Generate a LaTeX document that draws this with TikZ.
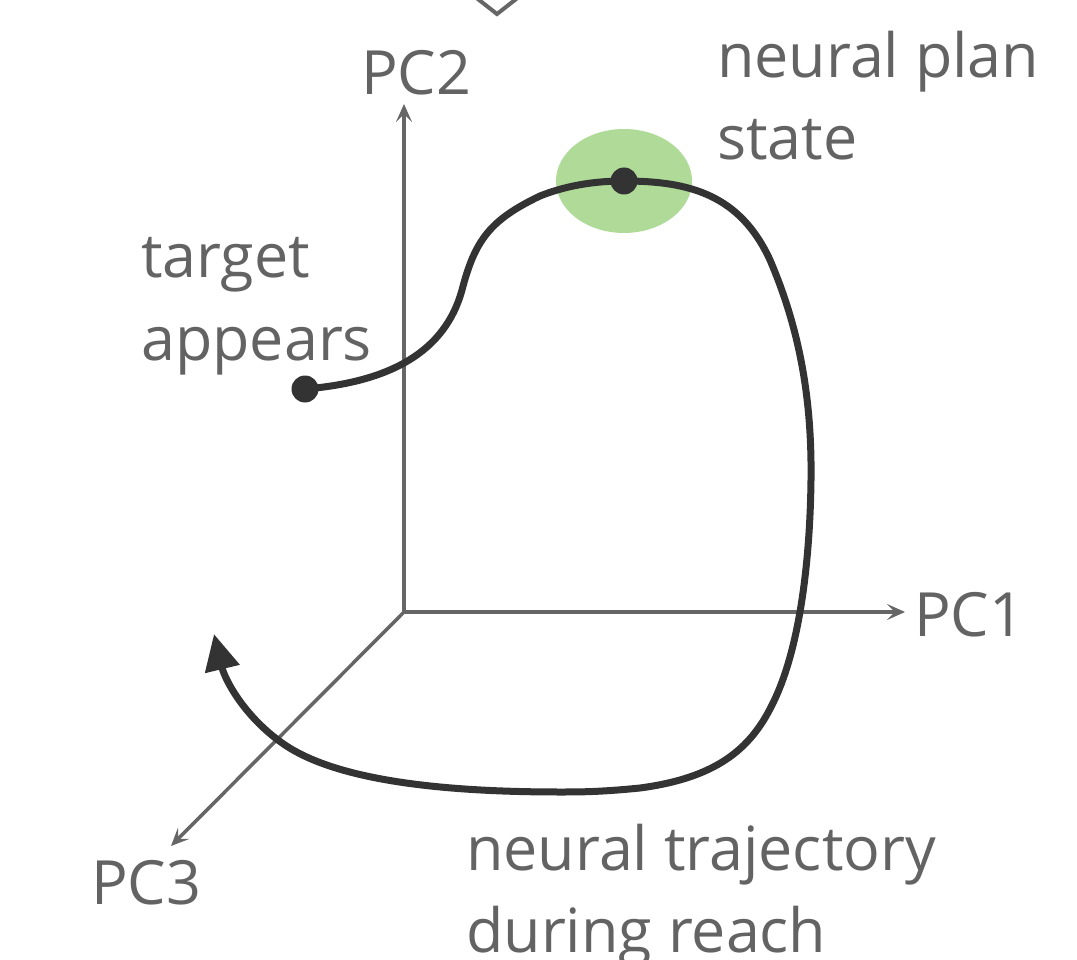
\documentclass[tikz,border=0pt]{standalone}
\usepackage{fontspec}
\setmainfont{Open Sans}
\usetikzlibrary{arrows.meta}
\definecolor{axisgray}{HTML}{666666}
\definecolor{traj}{HTML}{333333}
\definecolor{txtgray}{HTML}{636363}
\definecolor{plangreen}{HTML}{B0DA98}
\tikzset{
  axis/.style={draw=axisgray,line width=3.5pt,-{Stealth[length=18pt,width=16pt,inset=8pt]}},
  trajline/.style={draw=traj,line width=7pt},
  lbl/.style={text=txtgray,font=\fontsize{61}{82}\selectfont,inner sep=0pt},
  dotstyle/.style={circle,fill=traj,inner sep=0pt,minimum size=27pt},
}
\begin{document}
\begin{tikzpicture}[x=1pt,y=-1pt]
\useasboundingbox (0,0) rectangle (1077,960);
\clip (0,0) rectangle (1077,960);
% chevron at top
\coordinate (chl) at (474,-4);
\coordinate (cha) at (497,14);
\coordinate (chr) at (520,-4);
\draw[axisgray,line width=4pt] (chl) -- (cha) -- (chr);
% green plan ellipse
\fill[plangreen] (624,181) ellipse [x radius=68, y radius=52];
% axes
\coordinate (O) at (404,612);
\coordinate (pc1end) at (905,612);
\coordinate (pc2end) at (404,104);
\coordinate (pc3end) at (171,846);
\draw[axis] (O) -- (pc1end);
\draw[axis] (O) -- (pc2end);
\draw[axis] (O) -- (pc3end);
% trajectory
\node[dotstyle] (start) at (305,389) {};
\node[dotstyle] (plan) at (624,181) {};
\draw[trajline] (start.center) .. controls (390,382) and (445,352) .. (462,290)
  .. controls (475,240) and (490,220) .. (540,196)
  .. controls (570,184) and (600,181) .. (plan.center);
\draw[trajline,-{Triangle[length=36pt,width=34pt]}] (plan.center)
  .. controls (690,181) and (740,195) .. (770,260)
  .. controls (800,330) and (812,400) .. (811,480)
  .. controls (810,560) and (800,650) .. (772,705)
  .. controls (750,750) and (715,778) .. (640,788)
  .. controls (600,792) and (580,792) .. (560,792)
  .. controls (450,792) and (340,782) .. (285,745)
  .. controls (245,718) and (225,680) .. (214,634);
% labels
\node[lbl,anchor=base west] (lpc2) at (361,95) {PC2};
\node[lbl,anchor=base west] (lpc1) at (914,636) {PC1};
\node[lbl,anchor=base west] (lpc3) at (91,904) {PC3};
\node[lbl,anchor=base west] (lnp1) at (717,78) {neural plan};
\node[lbl,anchor=base west] (lnp2) at (717,160) {state};
\node[lbl,anchor=base west] (lta1) at (141,278) {target};
\node[lbl,anchor=base west] (lta2) at (141,360) {appears};
\node[lbl,anchor=base west] (lnt1) at (466,870) {neural trajectory};
\node[lbl,anchor=base west] (lnt2) at (466,952) {during reach};
\end{tikzpicture}
\end{document}
